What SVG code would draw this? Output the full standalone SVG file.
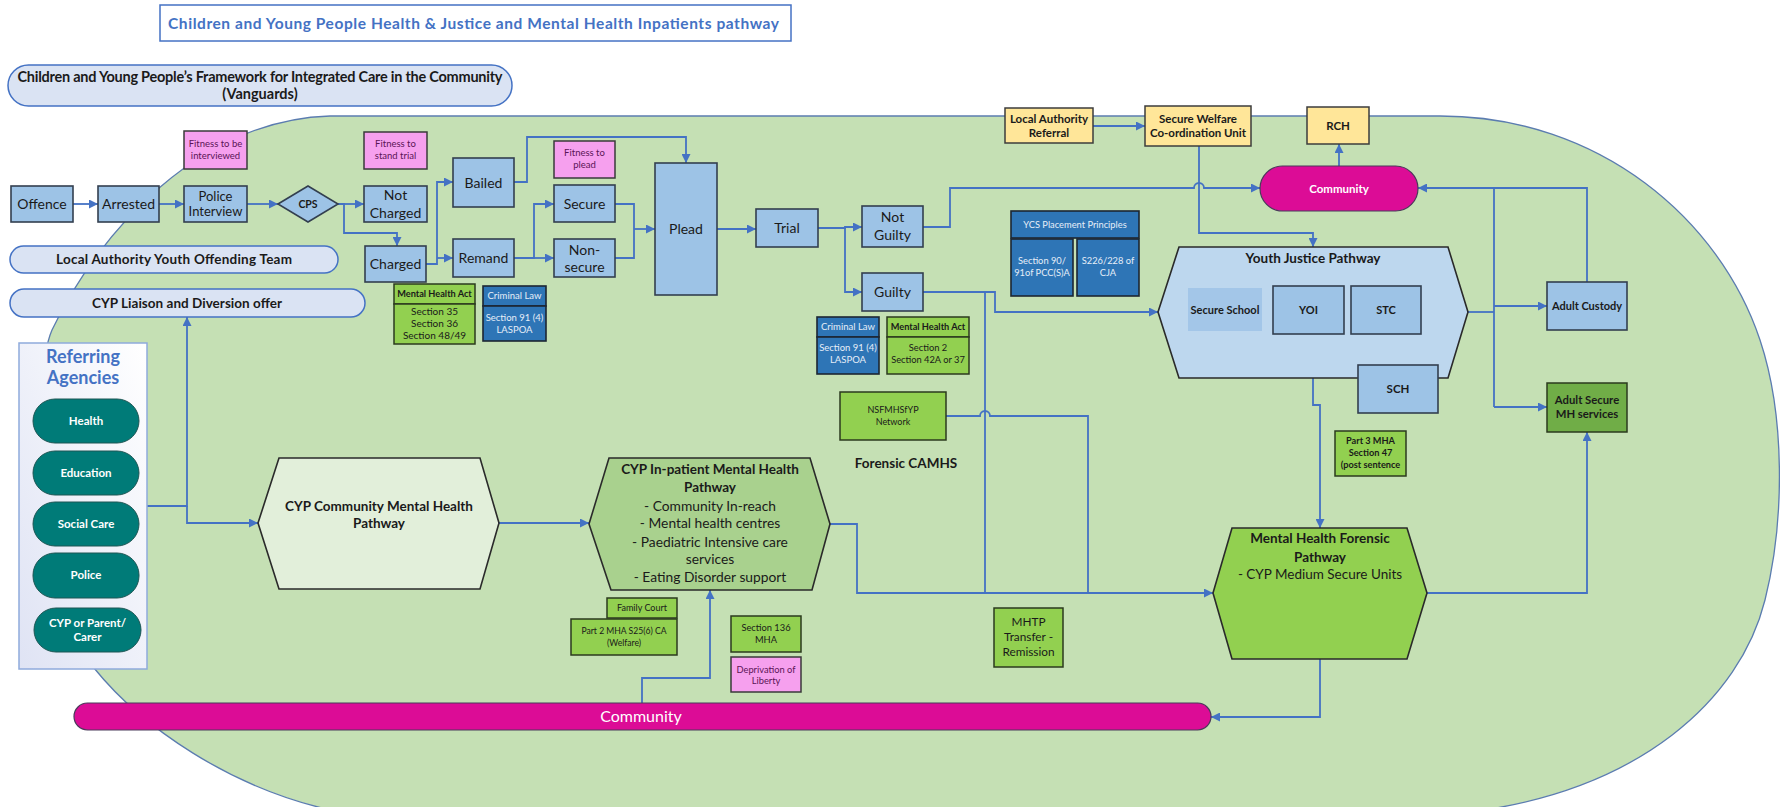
<svg xmlns="http://www.w3.org/2000/svg" width="1780" height="807" viewBox="0 0 1780 807">
<defs>
<marker id="ah" viewBox="0 0 10 10" refX="10" refY="5" markerWidth="9" markerHeight="9" markerUnits="userSpaceOnUse" orient="auto"><path d="M0,0 L10,5 L0,10 z" fill="#4472c4"/></marker>
<linearGradient id="refg" x1="1" y1="0" x2="0" y2="1"><stop offset="0" stop-color="#ffffff"/><stop offset="1" stop-color="#dfe3f4"/></linearGradient>
<style>
text{font-family:Lato,"Liberation Sans",sans-serif;text-anchor:middle;fill:#1a1a1a}
.box{fill:#9dc3e6;stroke:#333f4f;stroke-width:1.6}
.pink{fill:#f6a0ee;stroke:#3a3a3a;stroke-width:1.5}
.lg{fill:#92d050;stroke:#2b3a1e;stroke-width:1.5}
.dg{fill:#70ad47;stroke:#2b3a1e;stroke-width:1.5}
.db{fill:#2e75b6;stroke:#1c2633;stroke-width:1.6}
.yel{fill:#ffe699;stroke:#3c3c3c;stroke-width:1.5}
.pill{fill:#dae3f3;stroke:#4472c4;stroke-width:1.5}
.teal{fill:#007b78;stroke:#1d5654;stroke-width:1}
.mag{fill:#dc0c96;stroke:#4a3a5a;stroke-width:1.2}
.hex{stroke:#2a2a2a;stroke-width:1.6}
.conn{fill:none;stroke:#4472c4;stroke-width:1.8}
.arr{marker-end:url(#ah)}
.b{font-weight:bold}
.w{fill:#ffffff}
.lw{fill:#e6eef8}
.pt{fill:#5b1456}
.t14{font-size:14px}
.t95{font-size:9.5px}
</style>
</defs>

<!-- background blob -->
<path id="blob" d="M330,116 H1440 C1600,116 1720,220 1760,340 C1785,415 1785,520 1765,600 C1740,700 1640,790 1470,812 H340 C230,790 140,725 94,668 C38,598 30,380 52,330 C100,230 200,120 330,116 Z" fill="#c5e0b4" stroke="#5b7cb0" stroke-width="1.3"/>

<g id="title"><rect x="160" y="5" width="631" height="36" fill="#ffffff" stroke="#4472c4" stroke-width="1.5"/><text x="473.5" y="28.5" class="b" font-size="15.5" style="fill:#4472c4" textLength="611">Children and Young People Health &amp; Justice and Mental Health Inpatients pathway</text></g>

<g id="framework"><rect class="pill" x="8" y="65" width="504" height="41" rx="20.5"/><text class="b" font-size="14.5" x="260" y="82" textLength="485">Children and Young People’s Framework for Integrated Care in the Community</text><text class="b" font-size="14.5" x="260" y="99">(Vanguards)</text></g>

<!-- connectors -->
<g id="connectors">
<path class="conn arr" d="M73,204 H98"/>
<path class="conn arr" d="M159,204 H184"/>
<path class="conn arr" d="M247,204 H278"/>
<path class="conn arr" d="M338,204 H364"/>
<path class="conn arr" d="M338,204 H344 V233 H397 V246"/>
<path class="conn arr" d="M426,264 H437 V182 H453"/>
<path class="conn arr" d="M437,258 H453"/>
<path class="conn arr" d="M514,258 H534 V204 H554"/>
<path class="conn arr" d="M534,258 H554"/>
<path class="conn" d="M615,204 H634 V258 H615"/>
<path class="conn arr" d="M634,229 H655"/>
<path class="conn arr" d="M514,182 H527 V137 H686 V163"/>
<path class="conn arr" d="M717,229 H756"/>
<path class="conn arr" d="M818,228 H845 V227 H862"/>
<path class="conn arr" d="M845,228 V292 H862"/>
<path class="conn arr" d="M923,227 H950 V188 H1194 a5,5 0 0 1 10,0 H1260"/>
<path class="conn arr" d="M923,292 H995 V312 H1158"/>
<path class="conn" d="M985,292 V593"/>
<path class="conn arr" d="M830,524 H857 V593 H1213"/>
<path class="conn" d="M946,416 H980 a5,5 0 0 1 10,0 H1088 V593"/>
<path class="conn arr" d="M1093,126 H1145"/>
<path class="conn arr" d="M1199,146 V233 H1313 V247"/>
<path class="conn arr" d="M1339,166 V144"/>
<path class="conn" d="M1468,312 H1494"/>
<path class="conn" d="M1494,188 V407"/>
<path class="conn arr" d="M1494,306 H1547"/>
<path class="conn arr" d="M1494,407 H1547"/>
<path class="conn arr" d="M1587,282 V188 H1418"/>
<path class="conn arr" d="M1313,378 V405 H1320 V528"/>
<path class="conn arr" d="M1427,593 H1587 V432"/>
<path class="conn arr" d="M1320,659 V717 H1211"/>
<path class="conn arr" d="M642,703 V678 H710 V590"/>
<path class="conn arr" d="M147,506 H187 V317"/>
<path class="conn arr" d="M187,506 V523 H258"/>
<path class="conn arr" d="M499,523 H589"/>
</g>

<!-- pills -->
<g id="yot"><rect class="pill" x="10" y="246" width="328" height="27" rx="13.5"/><text class="b" font-size="13.5" x="174" y="264" textLength="236">Local Authority Youth Offending Team</text></g>
<g id="liaison"><rect class="pill" x="10" y="289" width="355" height="28" rx="14"/><text class="b" font-size="13.5" x="187" y="308" textLength="190">CYP Liaison and Diversion offer</text></g>

<!-- justice pathway boxes -->
<g id="offence"><rect class="box" x="11" y="186" width="62" height="36"/><text class="t14" x="42" y="209">Offence</text></g>
<g id="arrested"><rect class="box" x="98" y="186" width="61" height="36"/><text class="t14" x="128.5" y="209">Arrested</text></g>
<g id="fit-interview"><rect class="pink" x="184" y="131" width="63" height="38"/><text class="t95 pt" x="215.5" y="146.8">Fitness to be</text><text class="t95 pt" x="215.5" y="158.8">interviewed</text></g>
<g id="police-interview"><rect class="box" x="184" y="186" width="63" height="36"/><text font-size="13" x="215.5" y="201">Police</text><text font-size="13" x="215.5" y="216">Interview</text></g>
<g id="cps"><polygon class="box" points="278,204 308,186 338,204 308,222"/><text class="b" font-size="10.5" x="308" y="208">CPS</text></g>
<g id="fit-trial"><rect class="pink" x="364" y="132" width="63" height="37"/><text class="t95 pt" x="395.5" y="147.3">Fitness to</text><text class="t95 pt" x="395.5" y="159.3">stand trial</text></g>
<g id="not-charged"><rect class="box" x="364" y="186" width="63" height="36"/><text class="t14" x="395.5" y="200">Not</text><text class="t14" x="395.5" y="218">Charged</text></g>
<g id="charged"><rect class="box" x="365" y="246" width="61" height="36"/><text class="t14" x="395.5" y="269">Charged</text></g>
<g id="bailed"><rect class="box" x="453" y="158" width="61" height="49"/><text class="t14" x="483.5" y="187.5">Bailed</text></g>
<g id="remand"><rect class="box" x="453" y="239" width="61" height="38"/><text class="t14" x="483.5" y="263">Remand</text></g>
<g id="fit-plead"><rect class="pink" x="554" y="141" width="61" height="37"/><text class="t95 pt" x="584.5" y="156.3">Fitness to</text><text class="t95 pt" x="584.5" y="168.3">plead</text></g>
<g id="secure"><rect class="box" x="554" y="185" width="61" height="37"/><text class="t14" x="584.5" y="209">Secure</text></g>
<g id="non-secure"><rect class="box" x="554" y="239" width="61" height="38"/><text class="t14" x="584.5" y="255">Non-</text><text class="t14" x="584.5" y="272">secure</text></g>
<g id="plead"><rect class="box" x="655" y="163" width="62" height="132"/><text class="t14" x="686" y="234">Plead</text></g>
<g id="trial"><rect class="box" x="756" y="209" width="62" height="38"/><text class="t14" x="787" y="233">Trial</text></g>
<g id="not-guilty"><rect class="box" x="862" y="206" width="61" height="41"/><text class="t14" x="892.5" y="222">Not</text><text class="t14" x="892.5" y="240">Guilty</text></g>
<g id="guilty"><rect class="box" x="862" y="273" width="61" height="38"/><text class="t14" x="892.5" y="297">Guilty</text></g>

<!-- legal boxes -->
<g id="mha1"><rect class="lg" x="394" y="284" width="81" height="20"/><rect class="lg" x="394" y="304" width="81" height="40"/><text class="b" font-size="9.2" x="434.5" y="297.3">Mental Health Act</text><text font-size="10" x="434.5" y="314.5">Section 35</text><text font-size="10" x="434.5" y="326.5">Section 36</text><text font-size="10" x="434.5" y="338.5">Section 48/49</text></g>
<g id="cl1"><rect class="db" x="483" y="286" width="63" height="20"/><rect class="db" x="483" y="306" width="63" height="35"/><text class="t95 lw" x="514.5" y="299.3">Criminal Law</text><text class="t95 lw" x="514.5" y="321.3">Section 91 (4)</text><text class="t95 lw" x="514.5" y="333.3">LASPOA</text></g>
<g id="cl2"><rect class="db" x="817" y="317" width="62" height="20"/><rect class="db" x="817" y="337" width="62" height="37"/><text class="t95 lw" x="848" y="330.3">Criminal Law</text><text class="t95 lw" x="848" y="351.3">Section 91 (4)</text><text class="t95 lw" x="848" y="363.3">LASPOA</text></g>
<g id="mha2"><rect class="lg" x="887" y="317" width="82" height="20"/><rect class="lg" x="887" y="337" width="82" height="37"/><text class="b" font-size="9.2" x="928" y="330.3">Mental Health Act</text><text font-size="9.3" x="928" y="351.3">Section 2</text><text font-size="9.3" x="928" y="363.3">Section 42A or 37</text></g>
<g id="ycs"><rect class="db" x="1011" y="211" width="128" height="27"/><rect class="db" x="1011" y="239" width="62" height="57"/><rect class="db" x="1077" y="239" width="62" height="57"/><text font-size="9.3" class="lw" x="1075" y="228.3">YCS Placement Principles</text><text font-size="9.3" class="lw" x="1042" y="264.3">Section 90/</text><text font-size="9.3" class="lw" x="1042" y="276.3">91of PCC(S)A</text><text font-size="9.3" class="lw" x="1108" y="264.3">S226/228 of</text><text font-size="9.3" class="lw" x="1108" y="276.3">CJA</text></g>

<!-- top right -->
<g id="la-referral"><rect class="yel" x="1005" y="108" width="88" height="35"/><text class="b" font-size="11.5" x="1049" y="123">Local Authority</text><text class="b" font-size="11.5" x="1049" y="137">Referral</text></g>
<g id="swcu"><rect class="yel" x="1145" y="106" width="106" height="40"/><text class="b" font-size="11.5" x="1198" y="123">Secure Welfare</text><text class="b" font-size="11.5" x="1198" y="137">Co-ordination Unit</text></g>
<g id="rch"><rect class="yel" x="1307" y="107" width="62" height="37"/><text class="b" font-size="11.5" x="1338" y="130">RCH</text></g>
<g id="community-top"><rect class="mag" x="1260" y="166" width="158" height="45" rx="22.5"/><text class="b w" font-size="11.5" x="1339" y="192.5">Community</text></g>

<g id="yjp"><polygon class="hex" fill="#bdd7ee" points="1179,247 1448,247 1468,312 1448,378 1179,378 1158,312"/><text class="b" font-size="13.5" x="1313" y="263">Youth Justice Pathway</text></g>
<g id="secure-school"><rect x="1188" y="288" width="74" height="43" fill="#a3c6e8"/><text class="b" font-size="11" x="1225" y="314">Secure School</text></g>
<g id="yoi"><rect class="box" x="1273" y="286" width="71" height="48"/><text class="b" font-size="11" x="1308.5" y="314">YOI</text></g>
<g id="stc"><rect class="box" x="1351" y="286" width="70" height="48"/><text class="b" font-size="11" x="1386" y="314">STC</text></g>
<g id="sch"><rect class="box" x="1358" y="365" width="80" height="48"/><text class="b" font-size="11.5" x="1398" y="393">SCH</text></g>
<g id="adult-custody"><rect class="box" x="1547" y="282" width="80" height="48"/><text class="b" font-size="11" x="1587" y="310">Adult Custody</text></g>
<g id="adult-secure"><rect class="dg" x="1547" y="383" width="80" height="49"/><text class="b" font-size="11.3" x="1587" y="404">Adult Secure</text><text class="b" font-size="11.3" x="1587" y="418">MH services</text></g>
<g id="part3"><rect class="lg" x="1335" y="431" width="71" height="45"/><text class="b" font-size="9.2" x="1370.5" y="444.3">Part 3 MHA</text><text class="b" font-size="9.2" x="1370.5" y="456.3">Section 47</text><text class="b" font-size="9.2" x="1370.5" y="468.3">(post sentence</text></g>

<g id="mh-forensic"><polygon class="hex" fill="#92d050" points="1232,528 1407,528 1427,593 1407,659 1232,659 1213,593"/><text class="b" font-size="13.5" x="1320" y="543">Mental Health Forensic</text><text class="b" font-size="13.5" x="1320" y="562">Pathway</text><text font-size="13.5" x="1320" y="579">- CYP Medium Secure Units</text></g>

<g id="nsf"><rect class="lg" x="840" y="392" width="106" height="48"/><text font-size="9" x="893" y="413">NSFMHSfYP</text><text font-size="9" x="893" y="425">Network</text></g>
<g id="forensic-camhs"><text class="b" font-size="13.5" x="906" y="468">Forensic CAMHS</text></g>
<g id="mhtp"><rect class="lg" x="994" y="608" width="69" height="59"/><text font-size="11.8" x="1028.5" y="626">MHTP</text><text font-size="11.8" x="1028.5" y="641">Transfer -</text><text font-size="11.8" x="1028.5" y="656">Remission</text></g>

<!-- mental health -->
<g id="inpatient"><polygon class="hex" fill="#a9d18e" points="609,458 810,458 830,524 812,590 611,590 589,524"/><text class="b" font-size="13.5" x="710" y="474">CYP In-patient Mental Health</text><text class="b" font-size="13.5" x="710" y="492">Pathway</text><text font-size="13.8" x="710" y="511">- Community In-reach</text><text font-size="13.8" x="710" y="528">- Mental health centres</text><text font-size="13.8" x="710" y="547">- Paediatric Intensive care</text><text font-size="13.8" x="710" y="564">services</text><text font-size="13.8" x="710" y="582">- Eating Disorder support</text></g>
<g id="family-court"><rect class="lg" x="607" y="598" width="70" height="20"/><text font-size="9" x="642" y="611">Family Court</text></g>
<g id="part2"><rect class="lg" x="571" y="619" width="106" height="36"/><text font-size="8.6" x="624" y="634">Part 2 MHA S25(6) CA</text><text font-size="8.6" x="624" y="646">(Welfare)</text></g>
<g id="s136"><rect class="lg" x="731" y="616" width="70" height="36"/><text font-size="9.3" x="766" y="630.5">Section 136</text><text font-size="9.3" x="766" y="642.5">MHA</text></g>
<g id="dol"><rect class="pink" x="731" y="657" width="70" height="35"/><text font-size="9.3" class="pt" x="766" y="672.5">Deprivation of</text><text font-size="9.3" class="pt" x="766" y="683.5">Liberty</text></g>
<g id="community-mh"><polygon class="hex" fill="#e2efda" points="279,458 480,458 499,523 480,589 279,589 258,523"/><text class="b" font-size="13.5" x="379" y="511">CYP Community Mental Health</text><text class="b" font-size="13.5" x="379" y="528">Pathway</text></g>

<!-- referring agencies -->
<g id="referring"><rect x="19" y="343" width="128" height="326" fill="url(#refg)" stroke="#8faadc" stroke-width="1.5"/><text class="b" font-size="18" style="fill:#4472c4" x="83" y="363">Referring</text><text class="b" font-size="18" style="fill:#4472c4" x="83" y="384">Agencies</text></g>
<g id="health"><rect class="teal" x="33" y="399" width="106" height="44" rx="22"/><text class="b w" font-size="11.5" x="86" y="425">Health</text></g>
<g id="education"><rect class="teal" x="33" y="451" width="106" height="44" rx="22"/><text class="b w" font-size="11.5" x="86" y="477">Education</text></g>
<g id="social-care"><rect class="teal" x="33" y="502" width="106" height="44" rx="22"/><text class="b w" font-size="11.5" x="86" y="528">Social Care</text></g>
<g id="police"><rect class="teal" x="33" y="553" width="106" height="45" rx="22"/><text class="b w" font-size="11.5" x="86" y="579">Police</text></g>
<g id="cyp-parent"><rect class="teal" x="34" y="608" width="107" height="44" rx="22"/><text class="b w" font-size="11.5" x="87.5" y="627">CYP or Parent/</text><text class="b w" font-size="11.5" x="87.5" y="641">Carer</text></g>

<g id="community-bottom"><rect class="mag" x="74" y="703" width="1137" height="27" rx="13.5"/><text class="w" font-size="16" x="641" y="722">Community</text></g>
</svg>
